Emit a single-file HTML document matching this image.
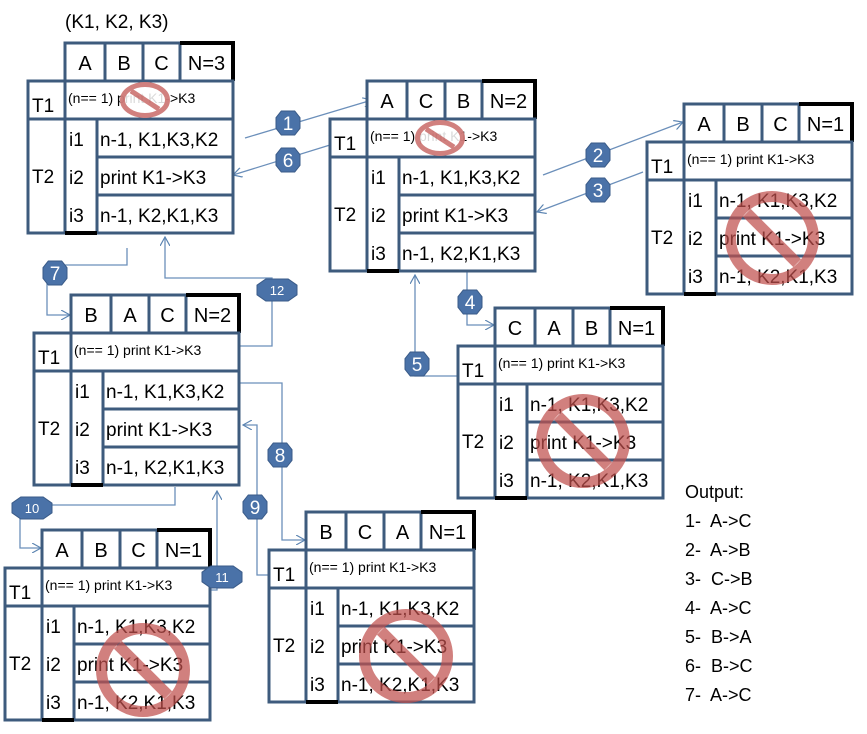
<!DOCTYPE html>
<html><head><meta charset="utf-8"><style>
html,body{margin:0;padding:0;background:#fff;}
svg{display:block;font-family:"Liberation Sans",sans-serif;}
</style></head><body>
<svg id="s" width="867" height="734" viewBox="0 0 867 734">
<defs>
<marker id="ar" markerWidth="10" markerHeight="10" refX="9" refY="5" orient="auto" markerUnits="userSpaceOnUse">
<path d="M0,0 L9,5 L0,10" fill="none" stroke="#5b84b1" stroke-width="1.2"/>
</marker>
</defs>
<text x="65" y="28" font-size="19">(K1, K2, K3)</text>
<g id="lines" fill="none" stroke="#6b8fba" stroke-width="1.3"></g>
<g id="blocks"></g>
<g id="badges"></g>
<g font-size="18">
<text x="685" y="498">Output:</text>
<text x="685" y="527">1-&#160; A-&gt;C</text>
<text x="685" y="556">2-&#160; A-&gt;B</text>
<text x="685" y="585">3-&#160; C-&gt;B</text>
<text x="685" y="614">4-&#160; A-&gt;C</text>
<text x="685" y="643">5-&#160; B-&gt;A</text>
<text x="685" y="672">6-&#160; B-&gt;C</text>
<text x="685" y="701">7-&#160; A-&gt;C</text>
</g>
</svg>
<script>
const NS="http://www.w3.org/2000/svg";
function mk(tag,attrs,parent){const e=document.createElementNS(NS,tag);for(const k in attrs)e.setAttribute(k,attrs[k]);parent.appendChild(e);return e;}
const blockOrigins=[[28,43],[330,81],[647,104],[34,295],[458,308],[5,530],[269,512]];
const blockHeaders=[["A","B","C","N=3"],["A","C","B","N=2"],["A","B","C","N=1"],["B","A","C","N=2"],["C","A","B","N=1"],["A","B","C","N=1"],["B","C","A","N=1"]];
const blockNoSign=[[145,100,25,18],[440,138,25,18],[150,350,25,18],[772,238,47,47],[583,441,47,47],[143,670,47,47],[406,656,47,47]];
const blocksG=document.getElementById('blocks');
const st="#3e5b7d";
blockOrigins.forEach((o,bi)=>{
  const [x,y]=o;
  const g=mk('g',{},blocksG);
  
  
  const hx=x+37, R=38;
  const cw=[40,38,37,53];
  let cx=hx;
  mk('rect',{x:hx,y:y,width:168,height:R,fill:'#fff',stroke:st,'stroke-width':3},g);
  cw.forEach((w,i)=>{
    if(i>0) mk('line',{x1:cx,y1:y,x2:cx,y2:y+R,stroke:st,'stroke-width':3},g);
    const t=mk('text',{x:cx+w/2,y:y+27,'font-size':20,'text-anchor':'middle'},g);
    t.textContent=blockHeaders[bi][i];
    cx+=w;
  });
  mk('path',{d:`M${hx+115},${y} H${hx+168} V${y+R}`,fill:'none',stroke:'#000','stroke-width':4},g);
  mk('rect',{x:x,y:y+R,width:205,height:R,fill:'#fff',stroke:st,'stroke-width':3},g);
  mk('line',{x1:hx,y1:y+R,x2:hx,y2:y+5*R,stroke:st,'stroke-width':3},g);
  let t=mk('text',{x:x+4,y:y+R+31,'font-size':19},g);t.textContent='T1';
  t=mk('text',{x:hx+3,y:y+R+22,'font-size':14},g);t.textContent='(n== 1) print  K1->K3';
  mk('rect',{x:x,y:y+2*R,width:205,height:3*R,fill:'none',stroke:st,'stroke-width':3},g);
  t=mk('text',{x:x+4,y:y+3.5*R+7,'font-size':19},g);t.textContent='T2';
  mk('line',{x1:hx+32,y1:y+2*R,x2:hx+32,y2:y+5*R,stroke:st,'stroke-width':3},g);
  mk('line',{x1:hx,y1:y+5*R,x2:hx+32,y2:y+5*R,stroke:'#000','stroke-width':4},g);
  const rows=[["i1","n-1, K1,K3,K2"],["i2","print K1->K3"],["i3","n-1, K2,K1,K3"]];
  rows.forEach((r,i)=>{
    const ry=y+(2+i)*R;
    if(i>0) mk('line',{x1:hx+32,y1:ry,x2:x+205,y2:ry,stroke:st,'stroke-width':3},g);
    let a=mk('text',{x:hx+4,y:ry+27,'font-size':19},g);a.textContent=r[0];
    a=mk('text',{x:hx+35,y:ry+27,'font-size':19},g);a.textContent=r[1];
  });
  const [nx,ny,rx,ry]=blockNoSign[bi];
  const small=rx<30;
  const ns=mk('g',{},g);
  
  
  const sw=small?5:11;
  if(small) mk('ellipse',{cx:nx,cy:ny,rx:rx,ry:ry,fill:'#fff',opacity:0.85},ns);
  const ng=mk('g',{opacity:0.72},ns);
  mk('ellipse',{cx:nx,cy:ny,rx:rx-sw/2,ry:ry-sw/2,fill:'none',stroke:'#c0504d','stroke-width':sw},ng);
  const k=0.7;
  mk('line',{x1:nx-(rx-sw)*k,y1:ny-(ry-sw)*k,x2:nx+(rx-sw)*k,y2:ny+(ry-sw)*k,stroke:'#c0504d','stroke-width':sw},ng);
});
const paths=[
 "M245,138 L372,100","M330,145 L233,175","M543,175 L683,122","M643,172 L537,212",
 "M467,272 V325 H494","M458,376 H415 V275","M127,248 V265 H47 V315 H70",
 "M240,346 H272 V278 H165 V237","M240,383 H282 V540 H305","M269,575 H257 V425 H243",
 "M175,487 V505 H20 V548 H41","M210,590 H217 V491"
];
const lg=document.getElementById('lines');
paths.forEach((d,i)=>{
  const p=mk('path',{d:d,'marker-end':'url(#ar)'},lg);
  
  
});
const badgeLabels=["1","2","3","4","5","6","7","8","9","10","11","12"];
const badgePos=[[288,123],[598,155],[598,190],[470,302],[417,364],[288,160],[55,273],[280,455],[255,507],[32,508],[222,577],[277,290]];
const bg=document.getElementById('badges');
badgeLabels.forEach((lab,i)=>{
  const [cx,cy]=badgePos[i];
  const w=lab.length>1?40:24, h=lab.length>1?22:24;
  const g=mk('g',{},bg);
  
  
  const a=w/2,b=h/2,c=w*0.22,d=h*0.28;
  mk('polygon',{points:`${cx-a+c},${cy-b} ${cx+a-c},${cy-b} ${cx+a},${cy-b+d} ${cx+a},${cy+b-d} ${cx+a-c},${cy+b} ${cx-a+c},${cy+b} ${cx-a},${cy+b-d} ${cx-a},${cy-b+d}`,fill:'#4a72a8',stroke:'#3a5b88','stroke-width':1},g);
  const t=mk('text',{x:cx,y:cy+(lab.length>1?5:7),'font-size':lab.length>1?13:19,'text-anchor':'middle',fill:'#fff'},g);
  t.textContent=lab;
});
</script>
</body></html>
